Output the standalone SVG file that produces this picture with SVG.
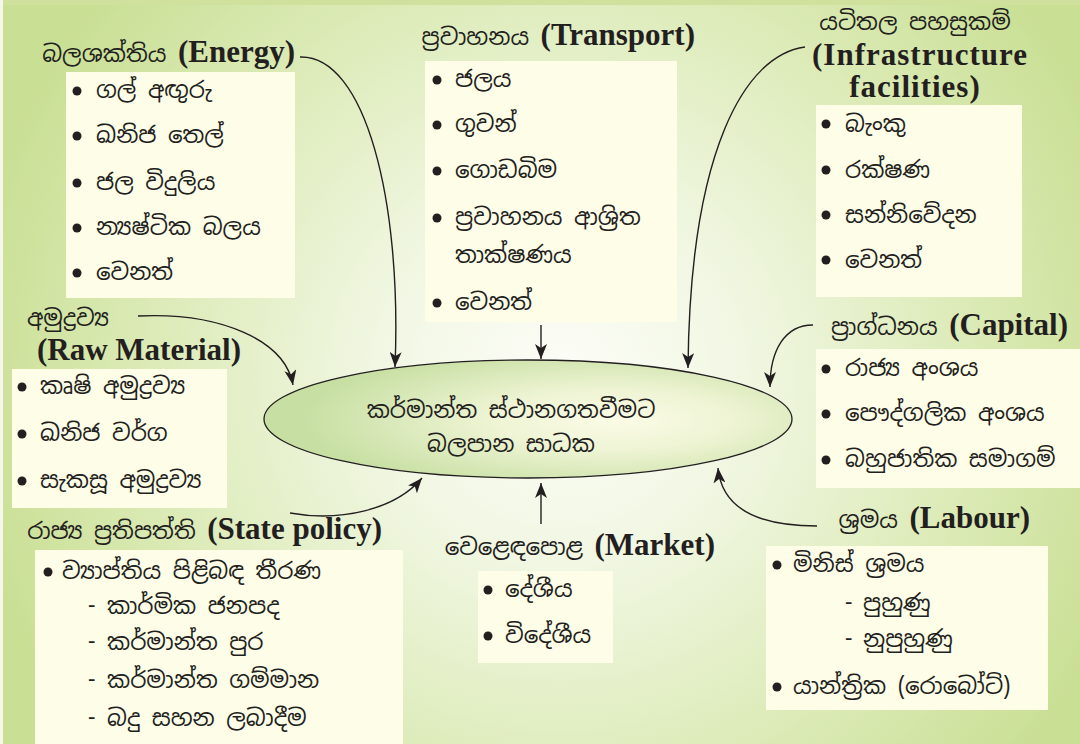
<svg xmlns="http://www.w3.org/2000/svg" width="1080" height="744" viewBox="0 0 1080 744">
  <defs>
    <radialGradient id="bg" gradientUnits="userSpaceOnUse" cx="560" cy="380" r="600">
      <stop offset="0" stop-color="#fdfdf8"/>
      <stop offset="0.3" stop-color="#f1f7e3"/>
      <stop offset="0.7" stop-color="#dbeab5"/>
      <stop offset="1" stop-color="#c9df94"/>
    </radialGradient>
    <radialGradient id="oval" gradientUnits="userSpaceOnUse" cx="600" cy="420" r="300" fx="620" fy="420" gradientTransform="translate(600 420) scale(1 0.25) translate(-600 -420)">
      <stop offset="0" stop-color="#fbfbe6"/>
      <stop offset="0.4" stop-color="#eef4d4"/>
      <stop offset="1" stop-color="#c7dfa2"/>
    </radialGradient>
    <marker id="arrow" markerUnits="userSpaceOnUse" markerWidth="16" markerHeight="12" refX="15" refY="6" orient="auto">
      <path d="M0,0 L15,6 L0,12 L4,6 Z" fill="#231f20"/>
    </marker>
    <style>
      .box { fill: #fdfde8; }
      .si { font-family: "Noto Sans Sinhala", "Noto Serif Sinhala", "Noto Sans", sans-serif; font-size: 23px; fill: #231f20; }
      .en { font-family: "Liberation Serif", serif; font-weight: bold; font-size: 31px; fill: #231f20; }
      .dot { fill: #231f20; }
      .link { fill: none; stroke: #231f20; stroke-width: 1.4; marker-end: url(#arrow); }
    </style>
  </defs>

  <!-- backdrop -->
  <rect x="0" y="0" width="1080" height="744" fill="#f4f7ea"/>
  <rect x="3" y="0" width="1077" height="744" fill="url(#bg)"/>
  <rect x="3" y="0" width="1077" height="5" fill="#cfe19c"/>

  <!-- central oval -->
  <g id="centre">
    <ellipse cx="528" cy="419" rx="264" ry="59" fill="url(#oval)" stroke="#231f20" stroke-width="1.3"/>
    <text class="si" x="511" y="418" text-anchor="middle" font-size="25">කර්මාන්ත ස්ථානගතවීමට</text>
    <text class="si" x="511" y="452" text-anchor="middle" font-size="25">බලපාන සාධක</text>
  </g>

  <!-- energy -->
  <g id="energy">
    <text class="si" x="295" y="62" text-anchor="end">බලශක්තිය <tspan class="en">(Energy)</tspan></text>
    <rect class="box" x="66" y="72" width="229" height="226"/>
    <circle class="dot" cx="77" cy="91" r="4.5"/>
    <circle class="dot" cx="77" cy="136" r="4.5"/>
    <circle class="dot" cx="77" cy="183" r="4.5"/>
    <circle class="dot" cx="77" cy="228" r="4.5"/>
    <circle class="dot" cx="77" cy="273" r="4.5"/>
    <text class="si" x="96" y="98">ගල් අඟුරු</text>
    <text class="si" x="96" y="143">ඛනිජ තෙල්</text>
    <text class="si" x="96" y="190">ජල විදුලිය</text>
    <text class="si" x="96" y="235">න්‍යෂ්ටික බලය</text>
    <text class="si" x="96" y="280">වෙනත්</text>
  </g>

  <!-- transport -->
  <g id="transport">
    <text class="si" x="695" y="45" text-anchor="end">ප්‍රවාහනය <tspan class="en">(Transport)</tspan></text>
    <rect class="box" x="425" y="61" width="252" height="261"/>
    <circle class="dot" cx="437" cy="80" r="4.5"/>
    <circle class="dot" cx="437" cy="125" r="4.5"/>
    <circle class="dot" cx="437" cy="171" r="4.5"/>
    <circle class="dot" cx="437" cy="218" r="4.5"/>
    <circle class="dot" cx="437" cy="303" r="4.5"/>
    <text class="si" x="455" y="87">ජලය</text>
    <text class="si" x="455" y="132">ගුවන්</text>
    <text class="si" x="455" y="178">ගොඩබිම</text>
    <text class="si" x="455" y="225">ප්‍රවාහනය ආශ්‍රිත</text>
    <text class="si" x="455" y="263">තාක්ෂණය</text>
    <text class="si" x="455" y="310">වෙනත්</text>
  </g>

  <!-- infrastructure -->
  <g id="infrastructure">
    <text class="si" x="915" y="30" text-anchor="middle">යටිතල පහසුකම්</text>
    <text class="en" x="920" y="65" text-anchor="middle" font-size="29" letter-spacing="1">(Infrastructure</text>
    <text class="en" x="915" y="97" text-anchor="middle" font-size="29" letter-spacing="1">facilities)</text>
    <rect class="box" x="816" y="105" width="206" height="192"/>
    <circle class="dot" cx="826" cy="124" r="4.5"/>
    <circle class="dot" cx="826" cy="170" r="4.5"/>
    <circle class="dot" cx="826" cy="215" r="4.5"/>
    <circle class="dot" cx="826" cy="260" r="4.5"/>
    <text class="si" x="845" y="132">බැංකු</text>
    <text class="si" x="845" y="178">රක්ෂණ</text>
    <text class="si" x="845" y="223">සන්නිවේදන</text>
    <text class="si" x="845" y="268">වෙනත්</text>
  </g>

  <!-- raw material -->
  <g id="raw-material">
    <text class="si" x="27" y="326">අමුද්‍රව්‍ය</text>
    <text class="en" x="139" y="360" text-anchor="middle">(Raw Material)</text>
    <rect class="box" x="12" y="369" width="215" height="139"/>
    <circle class="dot" cx="22" cy="387" r="4.5"/>
    <circle class="dot" cx="22" cy="434" r="4.5"/>
    <circle class="dot" cx="22" cy="481" r="4.5"/>
    <text class="si" x="40" y="394">කෘෂි අමුද්‍රව්‍ය</text>
    <text class="si" x="40" y="441">ඛනිජ වර්ග</text>
    <text class="si" x="40" y="488">සැකසූ අමුද්‍රව්‍ය</text>
  </g>

  <!-- capital -->
  <g id="capital">
    <text class="si" x="1068" y="335" text-anchor="end">ප්‍රාග්ධනය <tspan class="en">(Capital)</tspan></text>
    <rect class="box" x="816" y="349" width="264" height="139"/>
    <circle class="dot" cx="826" cy="369" r="4.5"/>
    <circle class="dot" cx="826" cy="414" r="4.5"/>
    <circle class="dot" cx="826" cy="460" r="4.5"/>
    <text class="si" x="845" y="376">රාජ්‍ය අංශය</text>
    <text class="si" x="845" y="421">පෞද්ගලික අංශය</text>
    <text class="si" x="845" y="467">බහුජාතික සමාගම්</text>
  </g>

  <!-- state policy -->
  <g id="state-policy">
    <text class="si" x="382" y="539" text-anchor="end">රාජ්‍ය ප්‍රතිපත්ති  <tspan class="en">(State policy)</tspan></text>
    <rect class="box" x="35" y="550" width="368" height="194"/>
    <circle class="dot" cx="48" cy="572" r="4.5"/>
    <text class="si" x="62" y="579">ව්‍යාප්තිය පිළිබඳ තීරණ</text>
    <text class="si" x="88" y="614">-</text>
    <text class="si" x="107" y="614">කාර්මික ජනපද</text>
    <text class="si" x="88" y="650">-</text>
    <text class="si" x="107" y="650">කර්මාන්ත පුර</text>
    <text class="si" x="88" y="688">-</text>
    <text class="si" x="107" y="688">කර්මාන්ත ගම්මාන</text>
    <text class="si" x="88" y="726">-</text>
    <text class="si" x="107" y="726">බදු සහන ලබාදීම</text>
  </g>

  <!-- market -->
  <g id="market">
    <text class="si" x="715" y="555" text-anchor="end">වෙළෙඳපොළ <tspan class="en">(Market)</tspan></text>
    <rect class="box" x="478" y="571" width="135" height="92"/>
    <circle class="dot" cx="488" cy="590" r="4.5"/>
    <circle class="dot" cx="488" cy="636" r="4.5"/>
    <text class="si" x="505" y="597">දේශීය</text>
    <text class="si" x="505" y="643">විදේශීය</text>
  </g>

  <!-- labour -->
  <g id="labour">
    <text class="si" x="1030" y="528" text-anchor="end">ශ්‍රමය <tspan class="en">(Labour)</tspan></text>
    <rect class="box" x="766" y="546" width="282" height="164"/>
    <circle class="dot" cx="777" cy="565" r="4.5"/>
    <text class="si" x="793" y="572">මිනිස් ශ්‍රමය</text>
    <text class="si" x="845" y="611">-</text>
    <text class="si" x="863" y="611">පුහුණු</text>
    <text class="si" x="845" y="647">-</text>
    <text class="si" x="863" y="647">නුපුහුණු</text>
    <circle class="dot" cx="777" cy="687" r="4.5"/>
    <text class="si" x="793" y="694">යාන්ත්‍රික (රොබෝට්)</text>
  </g>

  <!-- connectors -->
  <g id="connectors">
    <path class="link" d="M300,57 C365,55 402,200 395,367"/>
    <path class="link" d="M541,325 L541,359"/>
    <path class="link" d="M805,47 C745,55 690,150 688,368"/>
    <path class="link" d="M138,316 C220,312 285,340 293,385"/>
    <path class="link" d="M813,325 C785,325 770,350 770,387"/>
    <path class="link" d="M290,513 C340,522 395,510 422,478"/>
    <path class="link" d="M541,524 L541,483"/>
    <path class="link" d="M817,526 C760,526 722,510 718,468"/>
  </g>
</svg>
